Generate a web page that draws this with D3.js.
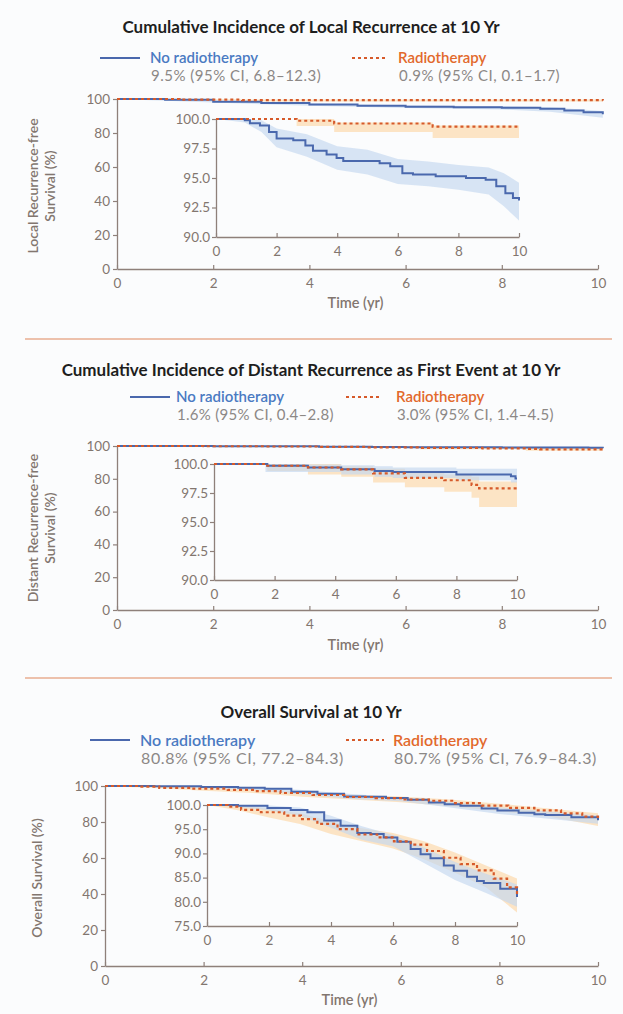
<!DOCTYPE html>
<html><head><meta charset="utf-8">
<script src="https://cdn.jsdelivr.net/npm/d3@7"></script>
<style>
body{margin:0;background:#fbfcfd;}
svg{display:block;font-family:Lato,"Open Sans",sans-serif;}
</style></head><body>
<svg id="chart" width="623" height="1014"></svg>
<script>
// ---------- DATA ----------
const groupNames = ["No radiotherapy", "Radiotherapy"];
const panelTitles = [
  "Cumulative Incidence of Local Recurrence at 10 Yr",
  "Cumulative Incidence of Distant Recurrence as First Event at 10 Yr",
  "Overall Survival at 10 Yr"
];
const noRtStats = ["9.5% (95% CI, 6.8\u201312.3)", "1.6% (95% CI, 0.4\u20132.8)", "80.8% (95% CI, 77.2\u201384.3)"];
const rtStats   = ["0.9% (95% CI, 0.1\u20131.7)", "3.0% (95% CI, 1.4\u20134.5)", "80.7% (95% CI, 76.9\u201384.3)"];
const yTitles = [["Local Recurrence-free", "Survival (%)"], ["Distant Recurrence-free", "Survival (%)"], ["Overall Survival (%)"]];
const xTitle = "Time (yr)";
const mainYTicks = [0, 20, 40, 60, 80, 100];
const mainXTicks = [0, 2, 4, 6, 8, 10];
const insetYTicks1 = [90, 92.5, 95, 97.5, 100];
const insetYTicks3 = [75, 80, 85, 90, 95, 100];

// Panel 1 — local recurrence-free survival  [time, %]
const p1MainNo = [[0,100],[1,99.6],[2,98.4],[3,97.6],[4,96.7],[5,96.1],[6,95.5],[7,95.1],[8,94.8],[8.8,94.2],[9.3,93.3],[9.7,92.2],[10.1,91.0]];
const p1MainNoBand = [[0,100,100],[2,98.9,97.9],[4,97.4,96.0],[6,96.3,94.7],[8,95.8,93.8],[9,95.2,92.5],[10.1,93.0,89.0]];
const p1MainRt = [[0,100],[1.3,99.6],[2.6,99.3],[10.1,99.1]];
const p1MainRtBand = [[0,100,100],[1.3,99.9,99.2],[2.6,99.7,98.5],[10.1,99.5,97.9]];
const p1InsetNo = [[0,100],[0.95,99.9],[1.12,99.65],[1.45,99.45],[1.75,98.9],[2.0,98.35],[2.55,98.2],[2.95,97.75],[3.2,97.3],[3.65,97.0],[3.98,96.7],[4.2,96.45],[5.4,96.25],[5.75,96.0],[6.15,95.4],[6.5,95.3],[7.25,95.15],[8.25,95.0],[8.9,94.85],[9.25,94.3],[9.55,93.7],[9.8,93.3],[10,93.1]];
const p1InsetNoBand = [[0,100,100],[0.95,100,99.7],[1.5,99.9,98.9],[2.0,99.2,97.6],[3.0,98.7,96.8],[4.0,97.7,95.7],[5.0,97.4,95.3],[6.0,96.6,94.5],[7.0,96.4,94.3],[8.0,96.1,94.0],[9.0,95.9,93.6],[9.5,95.4,92.6],[10,94.6,91.4]];
const p1InsetRt = [[0,100],[2.66,99.85],[3.9,99.62],[7.15,99.36],[10,99.36]];
const p1InsetRtBand = [[0,100,100],[2.66,100,99.4],[3.9,99.7,98.9],[7.15,99.45,98.4],[10,99.45,98.4]];

// Panel 2 — distant recurrence-free survival
const p2MainNo = [[0,100],[2,99.9],[3.1,99.8],[4.2,99.6],[5.3,99.45],[6,99.3],[8,99.1],[9.8,98.9],[10.1,98.6]];
const p2MainNoBand = [[0,100,100],[2,100,99.5],[4.2,99.9,99.2],[6,99.7,98.8],[8,99.6,98.5],[10.1,99.5,98.0]];
const p2MainRt = [[0,100],[1.8,99.85],[3.1,99.7],[4.2,99.5],[5.2,99.2],[6.3,98.8],[7.6,98.6],[8.5,98.2],[8.8,97.9],[10.1,97.6]];
const p2MainRtBand = [[0,100,100],[2,100,99.4],[4.2,99.8,98.9],[6.3,99.3,98.0],[8.5,98.9,97.1],[10.1,98.5,96.3]];
const p2InsetNo = [[0,100],[1.76,99.85],[3.1,99.7],[4.2,99.55],[5.3,99.4],[5.9,99.3],[8.0,99.1],[9.8,98.95],[9.95,98.75],[10,98.75]];
const p2InsetNoBand = [[0,100,100],[1.7,100,99.3],[3.1,99.95,99.3],[4.2,99.9,99.1],[5.3,99.8,98.9],[5.9,99.7,98.8],[8.0,99.6,98.6],[9.8,99.6,98.4],[10,99.6,98.4]];
const p2InsetRt = [[0,100],[1.76,99.85],[3.1,99.7],[4.2,99.53],[5.25,99.2],[6.3,98.8],[7.6,98.6],[8.5,98.2],[8.75,97.9],[10,97.9]];
const p2InsetRtBand = [[0,100,100],[1.76,100,99.4],[3.1,100,99.1],[4.2,99.8,98.9],[5.25,99.6,98.4],[6.3,99.3,98.0],[7.6,99.1,97.6],[8.5,98.9,97.1],[8.75,98.5,96.3],[10,98.5,96.3]];

// Panel 3 — overall survival
const p3No = [[0,100],[1,99.86],[1.95,99.4],[2.7,98.96],[3.24,98.5],[3.78,96.8],[4.31,95.7],[4.85,94.2],[5.28,94.0],[5.7,93.3],[6.14,92.4],[6.57,90.9],[6.89,89.8],[7.21,89.0],[7.64,87.5],[7.96,86.4],[8.39,85.2],[8.71,84.3],[8.93,83.9],[9.46,82.7],[10,81.0]];
const p3NoBand = [[0,100,100],[1,100,99.6],[2,99.9,98.9],[3,99.5,97.8],[4,97.8,95.3],[5,95.6,92.8],[6,93.8,91.5],[7,91.2,88.0],[8,88.2,84.5],[9,85.8,81.8],[10,83.6,79.0]];
const p3Rt = [[0,100],[0.67,99.65],[1.1,99.0],[1.74,98.5],[2.49,97.8],[3.03,97.1],[3.56,96.1],[4.21,95.0],[4.85,93.9],[5.49,93.3],[6.03,92.5],[6.57,91.8],[7.1,90.5],[7.64,89.1],[8.18,87.8],[8.71,86.5],[9.25,84.8],[9.68,83.0],[10,81.4]];
const p3RtBand = [[0,100,100],[1,100,98.9],[2,99.2,97.4],[3,98.3,96.1],[4,96.6,94.0],[5,95.2,92.5],[6,94.2,91.0],[7,92.5,88.8],[8,90.2,86.0],[9,87.5,83.0],[10,84.8,77.8]];

// ---------- STYLE ----------
const C = {
  axis: "#8e807a", tick: "#82766f", title: "#1e1e1e",
  blue: "#4a68ad", blueBand: "#c3d7f0", orange: "#d65a2a", orangeBand: "#fcdcb2",
  blueText: "#4a7ac2", orangeText: "#e2692c", stat: "#8c8886", sep: "#e9ae90"
};

const svg = d3.select("#chart");
svg.append("rect").attr("width",623).attr("height",1014).attr("fill","#fbfcfd");

// separators
[339, 678].forEach(yy => svg.append("line").attr("x1",25).attr("x2",612).attr("y1",yy).attr("y2",yy)
  .attr("stroke",C.sep).attr("stroke-width",1.5));

const panels = [
  { i:0, titleY:27, legY:58, statY:76, legNo:[100,140,150], legRt:[352,386,398], lfs:15, ls:0.5,
    mx:[117,598], my:[269,99], ix:[216,519], iy:[237,119], iDom:[90,100], iTicks:insetYTicks1,
    mainNo:p1MainNo, mainNoBand:p1MainNoBand, mainRt:p1MainRt, mainRtBand:p1MainRtBand,
    insNo:p1InsetNo, insNoBand:p1InsetNoBand, insRt:p1InsetRt, insRtBand:p1InsetRtBand,
    bandCurve:d3.curveLinear, insRtBandCurve:d3.curveStepAfter, yt:[33,50], ytY:186, xtOff:39 },
  { i:1, titleY:370, legY:397, statY:415, legNo:[130,170,176], legRt:[346,382,396], lfs:15, ls:0.3,
    mx:[117,598], my:[610,446], ix:[214,517], iy:[580,464], iDom:[90,100], iTicks:insetYTicks1,
    mainNo:p2MainNo, mainNoBand:p2MainNoBand, mainRt:p2MainRt, mainRtBand:p2MainRtBand,
    insNo:p2InsetNo, insNoBand:p2InsetNoBand, insRt:p2InsetRt, insRtBand:p2InsetRtBand,
    bandCurve:d3.curveStepAfter, insRtBandCurve:d3.curveStepAfter, yt:[33,50], ytY:528, xtOff:40 },
  { i:2, titleY:712, legY:740, statY:758, legNo:[90,130,140], legRt:[346,384,393], lfs:16, ls:0.6,
    mx:[105,598], my:[966,786], ix:[207,517], iy:[926,805], iDom:[75,100], iTicks:insetYTicks3,
    mainNo:p3No, mainNoBand:p3NoBand, mainRt:p3Rt, mainRtBand:p3RtBand,
    insNo:p3No, insNoBand:p3NoBand, insRt:p3Rt, insRtBand:p3RtBand,
    bandCurve:d3.curveLinear, insRtBandCurve:d3.curveLinear, yt:[37], ytY:878, xtOff:39 }
];

function styleAxis(sel, fs) {
  sel.select(".domain").attr("stroke", C.axis).attr("stroke-width", 1.3);
  sel.selectAll(".tick line").attr("stroke", C.axis).attr("stroke-width", 1.2);
  sel.selectAll(".tick text").attr("fill", C.tick).attr("font-size", fs).attr("font-family","Lato, sans-serif");
}

function drawCurves(g, x, y, noData, noBand, rtData, rtBand, bandCurve, rtBandCurve) {
  const area = (cv) => d3.area().x(d => x(d[0])).y0(d => y(d[2])).y1(d => y(d[1])).curve(cv);
  const line = d3.line().x(d => x(d[0])).y(d => y(d[1])).curve(d3.curveStepAfter);
  g.append("path").datum(rtBand).attr("d", area(rtBandCurve)).attr("fill", C.orangeBand).attr("opacity", 0.75);
  g.append("path").datum(noBand).attr("d", area(bandCurve)).attr("fill", C.blueBand).attr("opacity", 0.65);
  g.append("path").datum(noData).attr("d", line).attr("fill","none").attr("stroke", C.blue).attr("stroke-width", 2);
  g.append("path").datum(rtData).attr("d", line).attr("fill","none").attr("stroke", C.orange)
    .attr("stroke-width", 2.2).attr("stroke-dasharray", "3,3");
}

panels.forEach(p => {
  const g = svg.append("g");
  // title
  g.append("text").attr("x", 311).attr("y", p.titleY).attr("dy","0.35em").attr("text-anchor","middle")
    .attr("font-size", 17).attr("font-weight", 700).attr("fill", C.title).text(panelTitles[p.i]);
  // legend
  g.append("line").attr("x1", p.legNo[0]).attr("x2", p.legNo[1]).attr("y1", p.legY).attr("y2", p.legY)
    .attr("stroke", C.blue).attr("stroke-width", 2);
  g.append("text").attr("x", p.legNo[2]).attr("y", p.legY).attr("dy","0.35em").attr("font-size", p.lfs)
    .attr("font-weight", 600).attr("fill", C.blueText).text(groupNames[0]);
  g.append("text").attr("x", p.legNo[2] + 1).attr("y", p.statY).attr("dy","0.35em").attr("font-size", p.lfs)
    .attr("letter-spacing", p.ls).attr("fill", C.stat).text(noRtStats[p.i]);
  g.append("line").attr("x1", p.legRt[0]).attr("x2", p.legRt[1]).attr("y1", p.legY).attr("y2", p.legY)
    .attr("stroke", C.orange).attr("stroke-width", 2).attr("stroke-dasharray","3,3");
  g.append("text").attr("x", p.legRt[2]).attr("y", p.legY).attr("dy","0.35em").attr("font-size", p.lfs)
    .attr("font-weight", 600).attr("fill", C.orangeText).text(groupNames[1]);
  g.append("text").attr("x", p.legRt[2] + 1).attr("y", p.statY).attr("dy","0.35em").attr("font-size", p.lfs)
    .attr("letter-spacing", p.ls).attr("fill", C.stat).text(rtStats[p.i]);

  // main axes
  const x = d3.scaleLinear().domain([0,10]).range(p.mx);
  const y = d3.scaleLinear().domain([0,100]).range(p.my);
  const gy = g.append("g").attr("transform", `translate(${p.mx[0]},0)`)
    .call(d3.axisLeft(y).tickValues(mainYTicks).tickSize(4).tickSizeOuter(0).tickPadding(3));
  styleAxis(gy, 13.5);
  const gx = g.append("g").attr("transform", `translate(0,${p.my[0]})`)
    .call(d3.axisBottom(x).tickValues(mainXTicks).tickSize(-4).tickSizeOuter(0).tickPadding(9));
  styleAxis(gx, 13.5);
  g.append("text").attr("x", (p.mx[0]+p.mx[1])/2 - 2).attr("y", p.my[0] + p.xtOff).attr("text-anchor","middle")
    .attr("font-size", 14.5).attr("font-weight", 600).attr("fill", C.tick).text(xTitle);
  // y title
  yTitles[p.i].forEach((t, k) => {
    g.append("text").attr("transform", `translate(${p.yt[k]},${p.ytY}) rotate(-90)`).attr("dy","0.35em")
      .attr("text-anchor","middle").attr("font-size", 14).attr("font-weight", 600).attr("fill", C.tick).text(t);
  });
  drawCurves(g, x, y, p.mainNo, p.mainNoBand, p.mainRt, p.mainRtBand, p.bandCurve, p.insRtBandCurve);

  // inset
  const xi = d3.scaleLinear().domain([0,10]).range(p.ix);
  const yi = d3.scaleLinear().domain(p.iDom).range(p.iy);
  const giy = g.append("g").attr("transform", `translate(${p.ix[0]},0)`)
    .call(d3.axisLeft(yi).tickValues(p.iTicks).tickFormat(d3.format(".1f")).tickSize(4).tickSizeOuter(0).tickPadding(2));
  styleAxis(giy, 13.5);
  const gix = g.append("g").attr("transform", `translate(0,${p.iy[0]})`)
    .call(d3.axisBottom(xi).tickValues(mainXTicks).tickSize(-4).tickSizeOuter(0).tickPadding(9));
  styleAxis(gix, 13.5);
  drawCurves(g, xi, yi, p.insNo, p.insNoBand, p.insRt, p.insRtBand, p.bandCurve, p.insRtBandCurve);
});
</script>
</body></html>
